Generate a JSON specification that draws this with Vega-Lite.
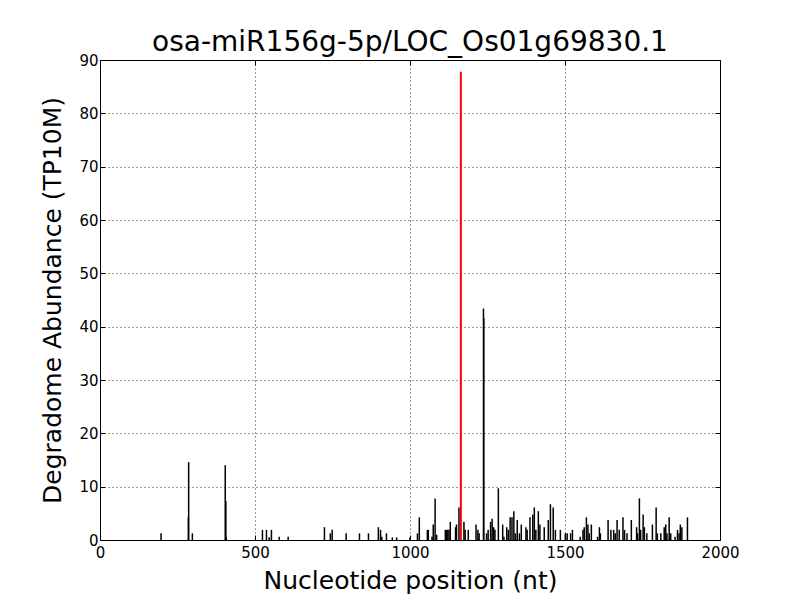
{
  "$schema": "https://vega.github.io/schema/vega-lite/v6.json",
  "width": 620,
  "height": 480,
  "autosize": {"type": "none"},
  "padding": {"left": 100, "top": 60, "right": 80, "bottom": 60},
  "background": "white",
  "title": {"text": "osa-miR156g-5p/LOC_Os01g69830.1", "font": "DejaVu Sans", "fontSize": 28, "fontWeight": "normal", "color": "black", "offset": -4, "anchor": "middle"},
  "config": {
    "view": {"stroke": "black", "strokeWidth": 1},
    "axis": {"labelFont": "DejaVu Sans", "labelFontSize": 15, "labelColor": "black", "labelFlush": false, "labelOverlap": false, "format": "d", "titleFont": "DejaVu Sans", "titleFontSize": 25, "titleFontWeight": "normal", "titleColor": "black", "domain": false, "tickColor": "black", "tickSize": -5, "gridColor": "black", "gridDash": [1, 3], "gridOpacity": 1, "gridWidth": 0.8}
  },
  "datasets": {
    "black": [
      {"pos": 197, "val": 1.25}, {"pos": 285, "val": 4.25}, {"pos": 286, "val": 14.6}, {"pos": 298, "val": 1.25},
      {"pos": 404, "val": 14.0}, {"pos": 406, "val": 7.3}, {"pos": 407, "val": 0.5},
      {"pos": 524, "val": 1.9}, {"pos": 537, "val": 1.9}, {"pos": 546, "val": 0.5}, {"pos": 553, "val": 1.9}, {"pos": 578, "val": 0.6}, {"pos": 607, "val": 0.6},
      {"pos": 724, "val": 2.4}, {"pos": 743, "val": 1.25}, {"pos": 749, "val": 1.9}, {"pos": 794, "val": 1.25}, {"pos": 837, "val": 1.25}, {"pos": 866, "val": 1.25},
      {"pos": 898, "val": 2.4}, {"pos": 905, "val": 1.9}, {"pos": 909, "val": 0.6}, {"pos": 924, "val": 1.25}, {"pos": 943, "val": 0.5}, {"pos": 957, "val": 0.5},
      {"pos": 1000, "val": 0.5}, {"pos": 1024, "val": 1.25}, {"pos": 1030, "val": 4.25}, {"pos": 1056, "val": 1.9}, {"pos": 1059, "val": 1.9}, {"pos": 1071, "val": 0.6},
      {"pos": 1075, "val": 2.9}, {"pos": 1081, "val": 7.8}, {"pos": 1086, "val": 1.0},
      {"pos": 1114, "val": 1.9}, {"pos": 1118, "val": 1.9}, {"pos": 1122, "val": 1.9}, {"pos": 1126, "val": 1.9}, {"pos": 1130, "val": 3.4},
      {"pos": 1147, "val": 2.4}, {"pos": 1150, "val": 2.9}, {"pos": 1158, "val": 6.1},
      {"pos": 1174, "val": 3.4}, {"pos": 1178, "val": 1.9}, {"pos": 1188, "val": 1.9},
      {"pos": 1213, "val": 2.9}, {"pos": 1219, "val": 1.9}, {"pos": 1223, "val": 1.25},
      {"pos": 1237, "val": 43.4}, {"pos": 1238, "val": 41.6},
      {"pos": 1247, "val": 1.25}, {"pos": 1252, "val": 1.9}, {"pos": 1260, "val": 3.4}, {"pos": 1265, "val": 4.0}, {"pos": 1270, "val": 2.4}, {"pos": 1274, "val": 1.9},
      {"pos": 1285, "val": 9.7}, {"pos": 1299, "val": 2.9}, {"pos": 1303, "val": 0.6}, {"pos": 1312, "val": 2.4}, {"pos": 1317, "val": 1.9},
      {"pos": 1323, "val": 4.25}, {"pos": 1329, "val": 4.25}, {"pos": 1335, "val": 5.4}, {"pos": 1340, "val": 1.25}, {"pos": 1346, "val": 3.75}, {"pos": 1353, "val": 1.25},
      {"pos": 1359, "val": 2.9}, {"pos": 1374, "val": 2.4}, {"pos": 1378, "val": 1.9}, {"pos": 1387, "val": 4.25}, {"pos": 1396, "val": 4.8}, {"pos": 1401, "val": 6.1},
      {"pos": 1406, "val": 1.9}, {"pos": 1414, "val": 5.4}, {"pos": 1419, "val": 2.9}, {"pos": 1433, "val": 2.4}, {"pos": 1446, "val": 3.75}, {"pos": 1453, "val": 6.7},
      {"pos": 1462, "val": 6.1}, {"pos": 1469, "val": 1.9}, {"pos": 1485, "val": 1.9}, {"pos": 1501, "val": 1.25}, {"pos": 1507, "val": 1.25}, {"pos": 1518, "val": 1.25},
      {"pos": 1524, "val": 1.9}, {"pos": 1549, "val": 0.6}, {"pos": 1558, "val": 1.9}, {"pos": 1562, "val": 2.4}, {"pos": 1569, "val": 4.25}, {"pos": 1574, "val": 2.9},
      {"pos": 1578, "val": 1.25}, {"pos": 1585, "val": 2.9}, {"pos": 1605, "val": 0.6}, {"pos": 1611, "val": 2.4}, {"pos": 1614, "val": 1.25},
      {"pos": 1639, "val": 3.75}, {"pos": 1648, "val": 1.9}, {"pos": 1657, "val": 1.9}, {"pos": 1662, "val": 1.25}, {"pos": 1668, "val": 3.75}, {"pos": 1675, "val": 1.9},
      {"pos": 1687, "val": 4.25}, {"pos": 1692, "val": 1.9}, {"pos": 1700, "val": 1.25}, {"pos": 1714, "val": 3.75}, {"pos": 1731, "val": 2.4}, {"pos": 1734, "val": 1.25},
      {"pos": 1740, "val": 7.8}, {"pos": 1744, "val": 1.9}, {"pos": 1752, "val": 4.8}, {"pos": 1756, "val": 2.4}, {"pos": 1764, "val": 1.25}, {"pos": 1782, "val": 2.9},
      {"pos": 1794, "val": 6.1}, {"pos": 1798, "val": 1.25}, {"pos": 1809, "val": 1.25}, {"pos": 1820, "val": 2.4}, {"pos": 1825, "val": 2.9}, {"pos": 1829, "val": 1.25},
      {"pos": 1836, "val": 4.25}, {"pos": 1841, "val": 1.25}, {"pos": 1855, "val": 0.6}, {"pos": 1863, "val": 1.9}, {"pos": 1868, "val": 1.25}, {"pos": 1872, "val": 2.9},
      {"pos": 1877, "val": 2.4}, {"pos": 1895, "val": 4.25}
    ],
    "red": [{"pos": 1164, "val": 87.8}]
  },
  "layer": [
    {
      "data": {"name": "black"},
      "mark": {"type": "rule", "color": "black", "strokeWidth": 1.5},
      "encoding": {
        "x": {"field": "pos", "type": "quantitative", "scale": {"domain": [0, 2000], "nice": false, "zero": false}, "axis": {"orient": "bottom", "title": "Nucleotide position (nt)", "values": [0, 500, 1000, 1500, 2000], "labelPadding": 10, "titlePadding": 8}},
        "y": {"field": "val", "type": "quantitative", "scale": {"domain": [0, 90], "nice": false}, "axis": {"orient": "left", "title": "Degradome Abundance (TP10M)", "values": [0, 10, 20, 30, 40, 50, 60, 70, 80, 90], "labelPadding": 7, "titlePadding": 13}},
        "y2": {"datum": 0}
      }
    },
    {
      "data": {"name": "red"},
      "mark": {"type": "rule", "color": "red", "strokeWidth": 2},
      "encoding": {
        "x": {"field": "pos", "type": "quantitative", "axis": {"orient": "top", "labels": false, "title": null, "grid": false, "values": [0, 500, 1000, 1500, 2000]}},
        "y": {"field": "val", "type": "quantitative", "axis": {"orient": "right", "labels": false, "title": null, "grid": false, "values": [0, 10, 20, 30, 40, 50, 60, 70, 80, 90]}},
        "y2": {"datum": 0}
      }
    }
  ],
  "resolve": {"axis": {"x": "independent", "y": "independent"}}
}
